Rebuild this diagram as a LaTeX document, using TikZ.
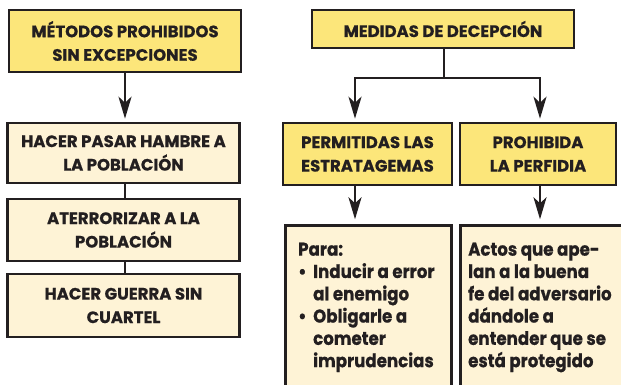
\documentclass[tikz,border=0pt]{standalone}
\usepackage{fontspec}
\setmainfont{Poppins}[BoldFeatures={FakeBold=0.6}]
\usetikzlibrary{arrows.meta}
\definecolor{hdr}{RGB}{252,230,122}
\definecolor{lite}{RGB}{254,243,214}
\definecolor{ink}{RGB}{35,31,32}
\begin{document}
\begin{tikzpicture}[x=1pt,y=-1pt,
 box/.style={draw=ink,line width=2.6pt,inner sep=0pt,align=center,text=ink,
   font=\bfseries\fontsize{16.5}{23.5}\selectfont},
 hdrbox/.style={box,fill=hdr},
 litebox/.style={box,fill=lite},
 arr/.style={draw=ink,line width=2.6pt,shorten >=3pt,-{Stealth[length=22pt,width=13pt,inset=6pt]}},
 link/.style={draw=ink,line width=2.6pt},
 body/.style={anchor=north west,inner sep=0pt,align=left,text=ink,
   font=\bfseries\fontsize{18.5}{22.3}\selectfont\addfontfeature{FakeStretch=0.9}}]
\useasboundingbox (0,0) rectangle (621,385);
% left column
\node[hdrbox,minimum width=232,minimum height=62] (A) at (125,41) {MÉTODOS PROHIBIDOS\\SIN EXCEPCIONES};
\node[litebox,minimum width=232,minimum height=60] (B) at (123.5,153) {HACER PASAR HAMBRE A\\LA POBLACIÓN};
\node[litebox,minimum width=232,minimum height=62] (C) at (123.5,230) {ATERRORIZAR A LA\\POBLACIÓN};
\node[litebox,minimum width=232,minimum height=63] (D) at (123.5,305.5) {HACER GUERRA SIN\\CUARTEL};
\draw[arr] (A.south -| 125,0) -- (B.north -| 125,0);
\draw[link] (B.south -| 125,0) -- (C.north -| 125,0);
\draw[link] (C.south -| 125,0) -- (D.north -| 125,0);
% right column
\node[hdrbox,minimum width=262,minimum height=38] (E) at (443,29) {MEDIDAS DE DECEPCIÓN};
\node[hdrbox,minimum width=169,minimum height=62] (F) at (367.5,154) {PERMITIDAS LAS\\ESTRATAGEMAS};
\node[hdrbox,minimum width=156,minimum height=62] (G) at (538,154) {PROHIBIDA\\LA PERFIDIA};
\node[litebox,anchor=north west,minimum width=166,minimum height=200] (H) at (284.3,224.3) {};
\node[litebox,anchor=north west,minimum width=180,minimum height=200] (I) at (459.3,224.3) {};
\coordinate (jl) at (355,78);
\coordinate (jr) at (540,78);
\draw[arr] (E.south -| 444,0) |- (jl) -- (jl |- F.north);
\draw[arr] (E.south -| 444,0) |- (jr) -- (jr |- G.north);
\draw[arr,shorten >=5pt] (F.south -| jl) -- (H.north -| jl);
\draw[arr,shorten >=5pt] (G.south -| jr) -- (I.north -| jr);
% body texts
\node[body] (Ht) at (298,242.5) {Para:\\
\makebox[15pt][l]{\textbullet}Inducir a error\\
\hspace*{15pt}al enemigo\\
\makebox[15pt][l]{\textbullet}Obligarle a\\
\hspace*{15pt}cometer\\
\hspace*{15pt}imprudencias};
\node[body] (It) at (468,242.5) {Actos que ape-\\lan a la buena\\fe del adversario\\dándole a\\entender que se\\está protegido};
\end{tikzpicture}
\end{document}
